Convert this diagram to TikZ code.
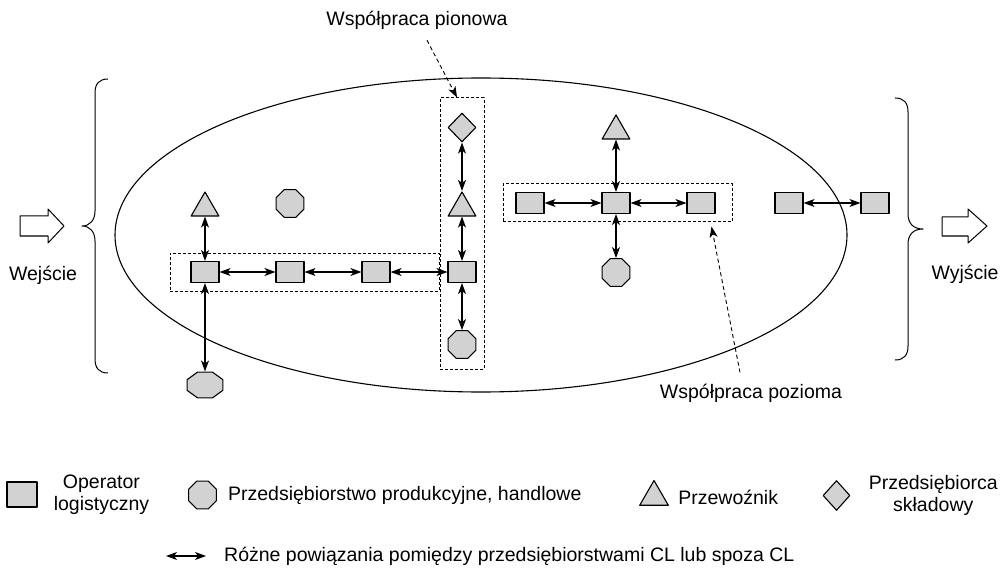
\documentclass[tikz,border=0pt]{standalone}
\usepackage{fontspec}
\setmainfont{Liberation Sans}
\usepackage{tikz}
\usetikzlibrary{arrows.meta,shapes.geometric,positioning}
\tikzset{
	opbox/.style={draw,line width=1.1pt,fill=gray!35,minimum width=28pt,minimum height=21pt,inner sep=0pt},
	octbox/.style={draw,line width=1.1pt,fill=gray!35,regular polygon,regular polygon sides=8,minimum size=30pt,inner sep=0pt},
	tribox/.style={draw,line width=1.1pt,fill=gray!35,regular polygon,regular polygon sides=3,minimum size=32pt,inner sep=0pt},
	diabox/.style={draw,line width=1.1pt,fill=gray!35,diamond,minimum width=28pt,minimum height=29pt,inner sep=0pt},
	groupbox/.style={draw,line width=1pt,dash pattern=on 3pt off 2pt,inner sep=0pt},
	hint/.style={->,line width=0.9pt,dash pattern=on 4pt off 3pt},
	lbl/.style={inner sep=2pt}
}

\begin{document}
\begin{tikzpicture}[x=1pt,y=-1pt,line join=round,
	>={Stealth[length=11pt,width=8pt,inset=3pt]},
	font=\fontsize{19.5}{22}\selectfont]
	\useasboundingbox (0,0) rectangle (1008,577);
	
	% granica systemu
	\draw[line width=1.1pt] (481,235) ellipse [x radius=366, y radius=157];
	
	\node[groupbox,minimum width=269pt,minimum height=38pt] (gl) at (304.5,272) {};
	\node[groupbox,minimum width=44pt,minimum height=271pt] (gv) at (462,233.5) {};
	\node[groupbox,minimum width=229pt,minimum height=38pt] (gr) at (617.5,203) {};
	
	\node[tribox] (t1) at (205,208) {};
	\node[octbox] (o1) at (290,203.5) {};
	\node[opbox] (s1) at (205,272) {};
	\node[opbox] (s2) at (290,272) {};
	\node[opbox] (s3) at (376,272) {};
	\node[opbox] (s4) at (462,272) {};
	\begin{scope}[shift={(205,385)},xscale=1.38]
		\node[octbox,minimum size=28pt,transform shape] (o2) at (0,0) {};
	\end{scope}
	
	\node[diabox] (d1) at (462,127.5) {};
	\node[tribox] (t2) at (462,208) {};
	\node[octbox] (o3) at (462,344.5) {};
	
	\node[opbox] (r1) at (530,203) {};
	\node[opbox] (r2) at (616,203) {};
	\node[opbox] (r3) at (701,203) {};
	\node[tribox] (t3) at (616,131) {};
	\node[octbox] (o4) at (616,272.5) {};
	
	\node[opbox] (f1) at (789,203) {};
	\node[opbox] (f2) at (875,203) {};
	
	\path[<->,line width=1.1pt]
	(t1) edge (s1)
	(s1) edge (s2)
	(s2) edge (s3)
	(s3) edge (s4)
	(s1) edge (o2)
	(d1) edge (t2)
	(t2) edge (s4)
	(s4) edge (o3)
	(t3) edge (r2)
	(r1) edge (r2)
	(r2) edge (r3)
	(r2) edge (o4)
	(f1) edge (f2)
	;
	
	\node[lbl,anchor=base] (lpion) at (417,26) {Współpraca pionowa};
	\node[lbl,anchor=base] (lpoz) at (751,398) {Współpraca pozioma};
	\draw[hint] ([shift={(10,8)}]lpion.south) -- ([xshift=-5pt]gv.north);
	\draw[hint] ([shift={(-11,-9)}]lpoz.north) -- ([shift={(-21,4)}]gr.south east);
	
	% wejscie / wyjscie
	\draw[line width=1pt] (20,216) -- (48,216) -- (48,209) -- (64,226) -- (48,243) -- (48,236) -- (20,236) -- cycle;
	\draw[line width=1pt] (942,217) -- (968,217) -- (968,209) -- (987,226) -- (968,243) -- (968,236) -- (942,236) -- cycle;
	\node[lbl] (lin) at (43,275) {Wejście};
	\node[lbl] (lout) at (965,274) {Wyjście};
	\draw[line width=1pt] (108,79) .. controls (99,79) and (95,84) .. (95,93)
	-- (95,211) .. controls (95,220) and (90,226) .. (82,226)
	.. controls (90,226) and (95,232) .. (95,241)
	-- (95,359) .. controls (95,368) and (99,373) .. (108,373);
	\draw[line width=1pt] (895,98) .. controls (904,98) and (908,103) .. (908,112)
	-- (908,214) .. controls (908,223) and (913,229) .. (923,229)
	.. controls (913,229) and (908,235) .. (908,244)
	-- (908,346) .. controls (908,355) and (904,360) .. (895,360);
	
	% legenda
	\node[opbox,minimum width=30pt,minimum height=25pt] (k1) at (22,494.5) {};
	\node[lbl,align=center,right=14pt of k1] (k1t) {Operator\\logistyczny};
	\node[octbox] (k2) at (202.5,495) {};
	\node[lbl,right=9pt of k2] (k2t) {Przedsiębiorstwo produkcyjne, handlowe};
	\node[tribox,minimum size=33pt] (k3) at (654,497) {};
	\node[lbl,right=12pt of k3.east] (k3t) {Przewoźnik};
	\node[diabox,minimum width=27pt,minimum height=30pt] (k4) at (836.5,495.5) {};
	\node[lbl,align=center,right=16pt of k4] (k4t) {Przedsiębiorca\\składowy};
	\coordinate (ka) at (166,556);
	\coordinate (kb) at (206,556);
	\draw[<->,line width=1.1pt] (ka) -- (kb);
	\node[lbl,right=16pt of kb] (k5t) {Różne powiązania pomiędzy przedsiębiorstwami CL lub spoza CL};
\end{tikzpicture}
\end{document}
